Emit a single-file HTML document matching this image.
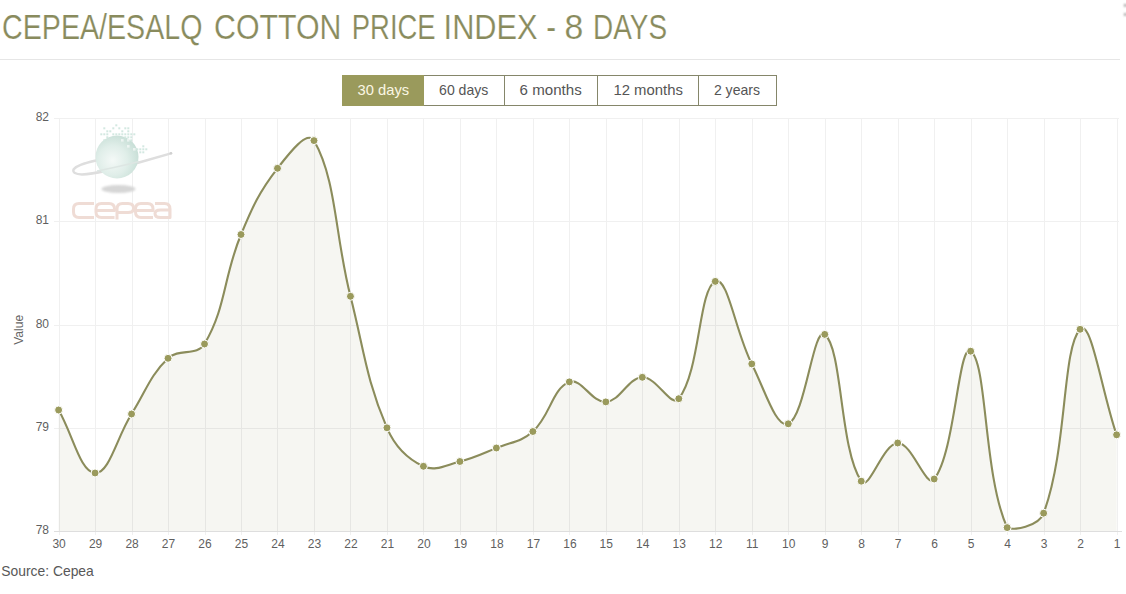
<!DOCTYPE html>
<html><head><meta charset="utf-8">
<style>
html,body{margin:0;padding:0;background:#fff;width:1126px;height:594px;overflow:hidden;}
svg{position:absolute;left:0;top:0;font-family:"Liberation Sans",sans-serif;}
</style></head><body>
<svg width="1126" height="594" viewBox="0 0 1126 594">
<line x1="0" y1="59.5" x2="1120" y2="59.5" stroke="#e6e6e6" stroke-width="1"/>
<defs><clipPath id="ac"><path d="M58.60,410.00 C73.19,435.20 80.14,472.18 95.08,473.00 C109.32,473.78 116.67,437.41 131.57,414.00 C145.86,391.53 149.67,375.93 168.05,358.30 C178.86,347.93 197.13,356.55 204.53,344.00 C226.32,307.03 223.38,276.97 241.01,234.50 C252.56,206.69 259.32,191.69 277.50,168.30 C288.51,154.13 307.48,129.20 313.98,140.60 C336.67,180.40 334.71,234.32 350.46,296.30 C363.90,349.20 365.93,378.83 386.94,427.80 C395.11,446.83 406.20,458.34 423.43,466.30 C435.38,471.82 445.72,465.06 459.91,461.50 C474.91,457.74 482.01,453.91 496.39,448.00 C511.20,441.91 521.38,441.92 532.88,431.50 C550.56,415.48 551.94,388.97 569.36,381.90 C581.13,377.13 591.66,402.79 605.84,401.90 C620.84,400.95 627.44,377.95 642.32,377.30 C656.63,376.67 671.33,408.52 678.81,398.70 C700.52,370.16 698.46,289.43 715.29,281.40 C727.65,275.51 735.35,331.85 751.77,363.90 C764.54,388.81 775.98,428.76 788.26,423.80 C805.16,416.96 813.37,325.45 824.74,334.40 C842.55,348.41 839.59,449.00 861.22,481.20 C868.77,492.44 882.89,443.45 897.70,443.00 C912.08,442.57 926.06,489.22 934.19,479.00 C955.25,452.50 958.28,342.95 970.67,351.20 C987.46,362.39 983.18,474.39 1007.15,527.60 C1012.37,531.00 1038.59,526.92 1043.63,513.20 C1067.77,447.60 1061.82,348.96 1080.12,329.30 C1091.01,317.60 1102.01,392.60 1116.60,434.80 L1116.60,531.00 L58.60,531.00 Z"/></clipPath>
<radialGradient id="gg" cx="0.4" cy="0.58" r="0.62"><stop offset="0" stop-color="#f4f9f7"/><stop offset="0.55" stop-color="#e0eee9"/><stop offset="1" stop-color="#c8dfd7"/></radialGradient>
<filter id="bl" x="-50%" y="-100%" width="200%" height="300%"><feGaussianBlur stdDeviation="1.2"/></filter></defs>
<g stroke="#f0f0f0" stroke-width="1" fill="none"><line x1="59.5" y1="118.0" x2="59.5" y2="535.0"/><line x1="95.5" y1="118.0" x2="95.5" y2="535.0"/><line x1="132.5" y1="118.0" x2="132.5" y2="535.0"/><line x1="168.5" y1="118.0" x2="168.5" y2="535.0"/><line x1="205.5" y1="118.0" x2="205.5" y2="535.0"/><line x1="241.5" y1="118.0" x2="241.5" y2="535.0"/><line x1="277.5" y1="118.0" x2="277.5" y2="535.0"/><line x1="314.5" y1="118.0" x2="314.5" y2="535.0"/><line x1="350.5" y1="118.0" x2="350.5" y2="535.0"/><line x1="387.5" y1="118.0" x2="387.5" y2="535.0"/><line x1="423.5" y1="118.0" x2="423.5" y2="535.0"/><line x1="460.5" y1="118.0" x2="460.5" y2="535.0"/><line x1="496.5" y1="118.0" x2="496.5" y2="535.0"/><line x1="533.5" y1="118.0" x2="533.5" y2="535.0"/><line x1="569.5" y1="118.0" x2="569.5" y2="535.0"/><line x1="606.5" y1="118.0" x2="606.5" y2="535.0"/><line x1="642.5" y1="118.0" x2="642.5" y2="535.0"/><line x1="679.5" y1="118.0" x2="679.5" y2="535.0"/><line x1="715.5" y1="118.0" x2="715.5" y2="535.0"/><line x1="752.5" y1="118.0" x2="752.5" y2="535.0"/><line x1="788.5" y1="118.0" x2="788.5" y2="535.0"/><line x1="825.5" y1="118.0" x2="825.5" y2="535.0"/><line x1="861.5" y1="118.0" x2="861.5" y2="535.0"/><line x1="898.5" y1="118.0" x2="898.5" y2="535.0"/><line x1="934.5" y1="118.0" x2="934.5" y2="535.0"/><line x1="971.5" y1="118.0" x2="971.5" y2="535.0"/><line x1="1007.5" y1="118.0" x2="1007.5" y2="535.0"/><line x1="1044.5" y1="118.0" x2="1044.5" y2="535.0"/><line x1="1080.5" y1="118.0" x2="1080.5" y2="535.0"/><line x1="1117.5" y1="118.0" x2="1117.5" y2="535.0"/><line x1="54" y1="118.5" x2="1119" y2="118.5"/><line x1="54" y1="221.5" x2="1119" y2="221.5"/><line x1="54" y1="325.5" x2="1119" y2="325.5"/><line x1="54" y1="428.5" x2="1119" y2="428.5"/><line x1="54" y1="531.5" x2="1119" y2="531.5"/></g>
<g>
<ellipse cx="118.5" cy="189" rx="17" ry="4" fill="#d6d6d6" filter="url(#bl)"/>
<path d="M96,160.5 Q77,164.5 73.5,169.5 Q72,174 82,174.5 Q100,173.5 139,162.5 L171,153.3" fill="none" stroke="#dedede" stroke-width="2.4" stroke-linecap="round"/>
<circle cx="117" cy="157" r="21.5" fill="url(#gg)"/>
<g fill="#ffffff" opacity="0.6"><rect x="121.0" y="139.0" width="2.6" height="2.6"/><rect x="127.0" y="139.0" width="2.6" height="2.6"/><rect x="127.0" y="145.0" width="2.6" height="2.6"/><rect x="133.0" y="148.0" width="2.6" height="2.6"/></g>
<g fill="#d3e8e1"><rect x="115.3" y="124.3" width="2" height="2"/><rect x="103.3" y="127.3" width="2" height="2"/><rect x="112.3" y="127.3" width="2" height="2"/><rect x="118.3" y="127.3" width="2" height="2"/><rect x="124.3" y="127.3" width="2" height="2"/><rect x="127.3" y="127.3" width="2" height="2"/><rect x="106.3" y="130.3" width="2" height="2"/><rect x="109.3" y="130.3" width="2" height="2"/><rect x="121.3" y="130.3" width="2" height="2"/><rect x="127.3" y="130.3" width="2" height="2"/><rect x="100.3" y="133.3" width="2" height="2"/><rect x="103.3" y="133.3" width="2" height="2"/><rect x="106.3" y="133.3" width="2" height="2"/><rect x="112.3" y="133.3" width="2" height="2"/><rect x="115.3" y="133.3" width="2" height="2"/><rect x="118.3" y="133.3" width="2" height="2"/><rect x="121.3" y="133.3" width="2" height="2"/><rect x="124.3" y="133.3" width="2" height="2"/><rect x="127.3" y="133.3" width="2" height="2"/><rect x="130.3" y="133.3" width="2" height="2"/><rect x="133.3" y="133.3" width="2" height="2"/><rect x="106.3" y="136.3" width="2" height="2"/><rect x="124.3" y="136.3" width="2" height="2"/><rect x="127.3" y="136.3" width="2" height="2"/><rect x="130.3" y="136.3" width="2" height="2"/><rect x="103.3" y="139.3" width="2" height="2"/><rect x="130.3" y="139.3" width="2" height="2"/><rect x="142.3" y="145.3" width="2" height="2"/><rect x="136.3" y="148.3" width="2" height="2"/><rect x="139.3" y="148.3" width="2" height="2"/><rect x="142.3" y="148.3" width="2" height="2"/><rect x="145.3" y="148.3" width="2" height="2"/><rect x="139.3" y="151.3" width="2" height="2"/><rect x="142.3" y="151.3" width="2" height="2"/></g>
<path d="M97,171 Q120,166.5 139,161.5" fill="none" stroke="#dde6e3" stroke-width="1.6"/>
<circle cx="171" cy="153.3" r="1.3" fill="#d0d0d0"/>
<g fill="none" stroke="#efdcd5" stroke-width="3" stroke-linejoin="round">
<path d="M94,203.5 H79 Q73.5,203.5 73.5,209 V212 Q73.5,217.5 79,217.5 H94"/>
<path d="M96,210.5 H114.5 V209 Q114.5,203.5 109,203.5 H101.5 Q96,203.5 96,209 V212 Q96,217.5 101.5,217.5 H114.5"/>
<path d="M117,219.5 V209 Q117,203.5 122.5,203.5 H128 Q133.5,203.5 133.5,208 V208.5 Q133.5,212.5 128,212.5 H117"/>
<path d="M135.5,210.5 H153 V209 Q153,203.5 147.5,203.5 H141 Q135.5,203.5 135.5,209 V212 Q135.5,217.5 141,217.5 H153"/>
<path d="M155,203.5 H164.5 Q170,203.5 170,209 V217.5 H160.5 Q155,217.5 155,213.5 Q155,210 160.5,210 H170"/>
</g></g>
<path d="M58.60,410.00 C73.19,435.20 80.14,472.18 95.08,473.00 C109.32,473.78 116.67,437.41 131.57,414.00 C145.86,391.53 149.67,375.93 168.05,358.30 C178.86,347.93 197.13,356.55 204.53,344.00 C226.32,307.03 223.38,276.97 241.01,234.50 C252.56,206.69 259.32,191.69 277.50,168.30 C288.51,154.13 307.48,129.20 313.98,140.60 C336.67,180.40 334.71,234.32 350.46,296.30 C363.90,349.20 365.93,378.83 386.94,427.80 C395.11,446.83 406.20,458.34 423.43,466.30 C435.38,471.82 445.72,465.06 459.91,461.50 C474.91,457.74 482.01,453.91 496.39,448.00 C511.20,441.91 521.38,441.92 532.88,431.50 C550.56,415.48 551.94,388.97 569.36,381.90 C581.13,377.13 591.66,402.79 605.84,401.90 C620.84,400.95 627.44,377.95 642.32,377.30 C656.63,376.67 671.33,408.52 678.81,398.70 C700.52,370.16 698.46,289.43 715.29,281.40 C727.65,275.51 735.35,331.85 751.77,363.90 C764.54,388.81 775.98,428.76 788.26,423.80 C805.16,416.96 813.37,325.45 824.74,334.40 C842.55,348.41 839.59,449.00 861.22,481.20 C868.77,492.44 882.89,443.45 897.70,443.00 C912.08,442.57 926.06,489.22 934.19,479.00 C955.25,452.50 958.28,342.95 970.67,351.20 C987.46,362.39 983.18,474.39 1007.15,527.60 C1012.37,531.00 1038.59,526.92 1043.63,513.20 C1067.77,447.60 1061.82,348.96 1080.12,329.30 C1091.01,317.60 1102.01,392.60 1116.60,434.80 L1116.60,531.00 L58.60,531.00 Z" fill="#f6f6f2" stroke="none"/>
<g stroke="#e6e6e3" stroke-width="1" fill="none" clip-path="url(#ac)"><line x1="59.5" y1="118.0" x2="59.5" y2="535.0"/><line x1="95.5" y1="118.0" x2="95.5" y2="535.0"/><line x1="132.5" y1="118.0" x2="132.5" y2="535.0"/><line x1="168.5" y1="118.0" x2="168.5" y2="535.0"/><line x1="205.5" y1="118.0" x2="205.5" y2="535.0"/><line x1="241.5" y1="118.0" x2="241.5" y2="535.0"/><line x1="277.5" y1="118.0" x2="277.5" y2="535.0"/><line x1="314.5" y1="118.0" x2="314.5" y2="535.0"/><line x1="350.5" y1="118.0" x2="350.5" y2="535.0"/><line x1="387.5" y1="118.0" x2="387.5" y2="535.0"/><line x1="423.5" y1="118.0" x2="423.5" y2="535.0"/><line x1="460.5" y1="118.0" x2="460.5" y2="535.0"/><line x1="496.5" y1="118.0" x2="496.5" y2="535.0"/><line x1="533.5" y1="118.0" x2="533.5" y2="535.0"/><line x1="569.5" y1="118.0" x2="569.5" y2="535.0"/><line x1="606.5" y1="118.0" x2="606.5" y2="535.0"/><line x1="642.5" y1="118.0" x2="642.5" y2="535.0"/><line x1="679.5" y1="118.0" x2="679.5" y2="535.0"/><line x1="715.5" y1="118.0" x2="715.5" y2="535.0"/><line x1="752.5" y1="118.0" x2="752.5" y2="535.0"/><line x1="788.5" y1="118.0" x2="788.5" y2="535.0"/><line x1="825.5" y1="118.0" x2="825.5" y2="535.0"/><line x1="861.5" y1="118.0" x2="861.5" y2="535.0"/><line x1="898.5" y1="118.0" x2="898.5" y2="535.0"/><line x1="934.5" y1="118.0" x2="934.5" y2="535.0"/><line x1="971.5" y1="118.0" x2="971.5" y2="535.0"/><line x1="1007.5" y1="118.0" x2="1007.5" y2="535.0"/><line x1="1044.5" y1="118.0" x2="1044.5" y2="535.0"/><line x1="1080.5" y1="118.0" x2="1080.5" y2="535.0"/><line x1="1117.5" y1="118.0" x2="1117.5" y2="535.0"/><line x1="54" y1="118.5" x2="1119" y2="118.5"/><line x1="54" y1="221.5" x2="1119" y2="221.5"/><line x1="54" y1="325.5" x2="1119" y2="325.5"/><line x1="54" y1="428.5" x2="1119" y2="428.5"/><line x1="54" y1="531.5" x2="1119" y2="531.5"/></g>
<path d="M58.60,410.00 C73.19,435.20 80.14,472.18 95.08,473.00 C109.32,473.78 116.67,437.41 131.57,414.00 C145.86,391.53 149.67,375.93 168.05,358.30 C178.86,347.93 197.13,356.55 204.53,344.00 C226.32,307.03 223.38,276.97 241.01,234.50 C252.56,206.69 259.32,191.69 277.50,168.30 C288.51,154.13 307.48,129.20 313.98,140.60 C336.67,180.40 334.71,234.32 350.46,296.30 C363.90,349.20 365.93,378.83 386.94,427.80 C395.11,446.83 406.20,458.34 423.43,466.30 C435.38,471.82 445.72,465.06 459.91,461.50 C474.91,457.74 482.01,453.91 496.39,448.00 C511.20,441.91 521.38,441.92 532.88,431.50 C550.56,415.48 551.94,388.97 569.36,381.90 C581.13,377.13 591.66,402.79 605.84,401.90 C620.84,400.95 627.44,377.95 642.32,377.30 C656.63,376.67 671.33,408.52 678.81,398.70 C700.52,370.16 698.46,289.43 715.29,281.40 C727.65,275.51 735.35,331.85 751.77,363.90 C764.54,388.81 775.98,428.76 788.26,423.80 C805.16,416.96 813.37,325.45 824.74,334.40 C842.55,348.41 839.59,449.00 861.22,481.20 C868.77,492.44 882.89,443.45 897.70,443.00 C912.08,442.57 926.06,489.22 934.19,479.00 C955.25,452.50 958.28,342.95 970.67,351.20 C987.46,362.39 983.18,474.39 1007.15,527.60 C1012.37,531.00 1038.59,526.92 1043.63,513.20 C1067.77,447.60 1061.82,348.96 1080.12,329.30 C1091.01,317.60 1102.01,392.60 1116.60,434.80" fill="none" stroke="#8b8c5b" stroke-width="2.1"/>
<line x1="54" y1="531.5" x2="1122" y2="531.5" stroke="#dedede" stroke-width="1"/>
<g fill="#9a9a5c" stroke="#fff" stroke-width="1"><circle cx="58.60" cy="410.00" r="4.0"/><circle cx="95.08" cy="473.00" r="4.0"/><circle cx="131.57" cy="414.00" r="4.0"/><circle cx="168.05" cy="358.30" r="4.0"/><circle cx="204.53" cy="344.00" r="4.0"/><circle cx="241.01" cy="234.50" r="4.0"/><circle cx="277.50" cy="168.30" r="4.0"/><circle cx="313.98" cy="140.60" r="4.0"/><circle cx="350.46" cy="296.30" r="4.0"/><circle cx="386.94" cy="427.80" r="4.0"/><circle cx="423.43" cy="466.30" r="4.0"/><circle cx="459.91" cy="461.50" r="4.0"/><circle cx="496.39" cy="448.00" r="4.0"/><circle cx="532.88" cy="431.50" r="4.0"/><circle cx="569.36" cy="381.90" r="4.0"/><circle cx="605.84" cy="401.90" r="4.0"/><circle cx="642.32" cy="377.30" r="4.0"/><circle cx="678.81" cy="398.70" r="4.0"/><circle cx="715.29" cy="281.40" r="4.0"/><circle cx="751.77" cy="363.90" r="4.0"/><circle cx="788.26" cy="423.80" r="4.0"/><circle cx="824.74" cy="334.40" r="4.0"/><circle cx="861.22" cy="481.20" r="4.0"/><circle cx="897.70" cy="443.00" r="4.0"/><circle cx="934.19" cy="479.00" r="4.0"/><circle cx="970.67" cy="351.20" r="4.0"/><circle cx="1007.15" cy="527.60" r="4.0"/><circle cx="1043.63" cy="513.20" r="4.0"/><circle cx="1080.12" cy="329.30" r="4.0"/><circle cx="1116.60" cy="434.80" r="4.0"/></g>
<g font-size="12" fill="#5f5f5f"><text x="49" y="121.1" text-anchor="end">82</text><text x="49" y="224.3" text-anchor="end">81</text><text x="49" y="327.6" text-anchor="end">80</text><text x="49" y="430.9" text-anchor="end">79</text><text x="49" y="534.1" text-anchor="end">78</text><text x="59.1" y="547.6" text-anchor="middle">30</text><text x="95.6" y="547.6" text-anchor="middle">29</text><text x="132.1" y="547.6" text-anchor="middle">28</text><text x="168.5" y="547.6" text-anchor="middle">27</text><text x="205.0" y="547.6" text-anchor="middle">26</text><text x="241.5" y="547.6" text-anchor="middle">25</text><text x="278.0" y="547.6" text-anchor="middle">24</text><text x="314.5" y="547.6" text-anchor="middle">23</text><text x="351.0" y="547.6" text-anchor="middle">22</text><text x="387.4" y="547.6" text-anchor="middle">21</text><text x="423.9" y="547.6" text-anchor="middle">20</text><text x="460.4" y="547.6" text-anchor="middle">19</text><text x="496.9" y="547.6" text-anchor="middle">18</text><text x="533.4" y="547.6" text-anchor="middle">17</text><text x="569.9" y="547.6" text-anchor="middle">16</text><text x="606.3" y="547.6" text-anchor="middle">15</text><text x="642.8" y="547.6" text-anchor="middle">14</text><text x="679.3" y="547.6" text-anchor="middle">13</text><text x="715.8" y="547.6" text-anchor="middle">12</text><text x="752.3" y="547.6" text-anchor="middle">11</text><text x="788.8" y="547.6" text-anchor="middle">10</text><text x="825.2" y="547.6" text-anchor="middle">9</text><text x="861.7" y="547.6" text-anchor="middle">8</text><text x="898.2" y="547.6" text-anchor="middle">7</text><text x="934.7" y="547.6" text-anchor="middle">6</text><text x="971.2" y="547.6" text-anchor="middle">5</text><text x="1007.7" y="547.6" text-anchor="middle">4</text><text x="1044.1" y="547.6" text-anchor="middle">3</text><text x="1080.6" y="547.6" text-anchor="middle">2</text><text x="1117.1" y="547.6" text-anchor="middle">1</text></g>
<text x="-15" y="0" transform="translate(23.3,329.8) rotate(-90)" font-size="13.5" textLength="30" lengthAdjust="spacingAndGlyphs" fill="#666">Value</text>
<rect x="342.5" y="75.5" width="434" height="30" fill="#fff" stroke="#85866a" stroke-width="1"/>
<rect x="342" y="75" width="82" height="31" fill="#9a9a5c"/>
<g stroke="#85866a" stroke-width="1"><line x1="504.5" y1="75" x2="504.5" y2="106"/><line x1="597.5" y1="75" x2="597.5" y2="106"/><line x1="698.5" y1="75" x2="698.5" y2="106"/></g>
<text x="357.60" y="95.30" font-size="14.5" fill="#faf7e4" textLength="51.50" lengthAdjust="spacingAndGlyphs">30 days</text><text x="439.10" y="95.30" font-size="14.5" fill="#555" textLength="49.20" lengthAdjust="spacingAndGlyphs">60 days</text><text x="519.60" y="95.30" font-size="14.5" fill="#555" textLength="62.10" lengthAdjust="spacingAndGlyphs">6 months</text><text x="613.40" y="95.30" font-size="14.5" fill="#555" textLength="69.50" lengthAdjust="spacingAndGlyphs">12 months</text><text x="713.90" y="95.30" font-size="14.5" fill="#555" textLength="46.10" lengthAdjust="spacingAndGlyphs">2 years</text>
<g stroke="#fff" stroke-width="0.2"><text x="2.10" y="38.60" font-size="35" fill="#898b5d" textLength="200.30" lengthAdjust="spacingAndGlyphs">CEPEA/ESALQ</text><text x="214.00" y="38.60" font-size="35" fill="#898b5d" textLength="127.40" lengthAdjust="spacingAndGlyphs">COTTON</text><text x="351.80" y="38.60" font-size="35" fill="#898b5d" textLength="83.80" lengthAdjust="spacingAndGlyphs">PRICE</text><text x="443.60" y="38.60" font-size="35" fill="#898b5d" textLength="94.00" lengthAdjust="spacingAndGlyphs">INDEX</text><text x="546.20" y="38.60" font-size="35" fill="#898b5d" textLength="9.80" lengthAdjust="spacingAndGlyphs">-</text><text x="564.50" y="38.60" font-size="35" fill="#898b5d" textLength="18.80" lengthAdjust="spacingAndGlyphs">8</text><text x="593.10" y="38.60" font-size="35" fill="#898b5d" textLength="74.00" lengthAdjust="spacingAndGlyphs">DAYS</text></g>
<text x="1.30" y="576.00" font-size="14.5" fill="#585858" textLength="92.50" lengthAdjust="spacingAndGlyphs">Source: Cepea</text>
<rect x="1124" y="4.2" width="2.5" height="2.4" fill="#777" filter="url(#bl)" opacity="0.8"/><rect x="1124" y="13.3" width="2.5" height="2.4" fill="#777" filter="url(#bl)" opacity="0.8"/>
</svg>
</body></html>
